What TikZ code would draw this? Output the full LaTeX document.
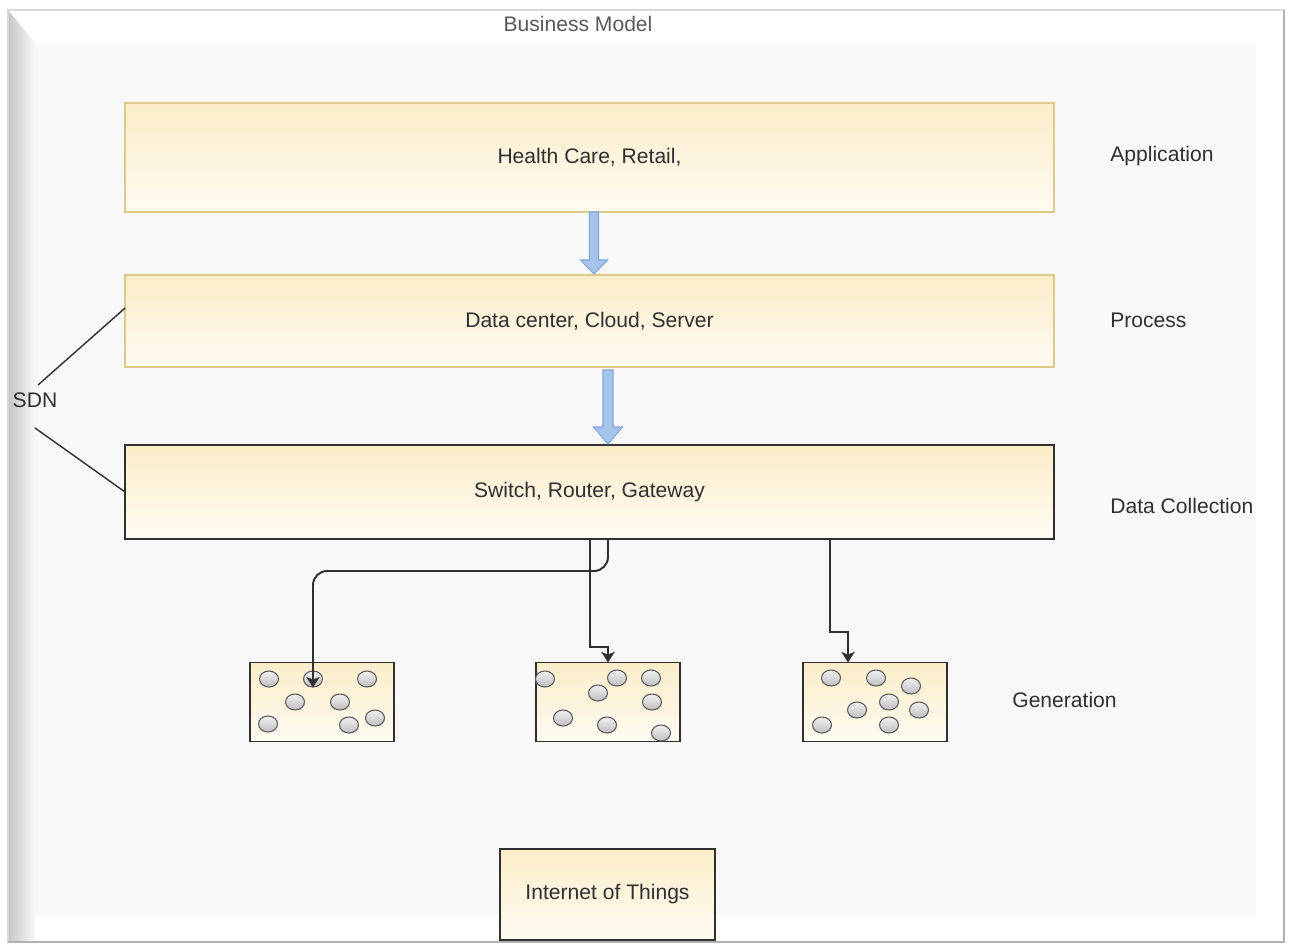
\documentclass[tikz,border=0pt]{standalone}
\usepackage{fontspec}
\setmainfont{Liberation Sans}
\usetikzlibrary{arrows.meta,positioning,shapes.geometric}

\definecolor{layerTop}{HTML}{FBEDC9}
\definecolor{layerBot}{HTML}{FEFBF2}
\definecolor{layerLine}{HTML}{E0C88A}
\definecolor{flowFill}{HTML}{A9C4EB}
\definecolor{flowLine}{HTML}{7EA6E0}
\definecolor{ink}{HTML}{303030}
\definecolor{pane}{HTML}{F8F8F8}

\begin{document}
\begin{tikzpicture}[x=0.02cm, y=-0.02cm,
  every node/.style={font=\fontsize{12}{14}\selectfont, text=ink},
  layer/.style={draw=layerLine, line width=0.9pt, top color=layerTop, bottom color=layerBot, minimum width=18.58cm, inner sep=0pt, outer sep=0pt},
  hwlayer/.style={layer, draw=ink},
  field/.style={draw=ink, line width=0.9pt, top color=layerTop, bottom color=layerBot, minimum width=2.88cm, minimum height=1.58cm, inner sep=0pt, outer sep=0pt},
  dot/.style={ellipse, draw=gray!70!black, line width=0.6pt, top color=gray!12, bottom color=gray!50, minimum width=0.38cm, minimum height=0.32cm, inner sep=0pt},
  tag/.style={anchor=west, inner xsep=0pt},
  link/.style={draw=ink, line width=1.1pt, -{Stealth[length=6pt, width=7.5pt, inset=1.5pt]}},
  sdnline/.style={draw=ink, line width=0.8pt},
  flow/.style={draw=flowLine, fill=flowFill, line width=0.6pt, line join=miter}]

% page frame with its shadow
\useasboundingbox (0,0) rectangle (1290,943);
\fill[white] (0,0) rectangle (1290,943);
\fill[pane] (35,43) rectangle (1256,915);
\shade[left color=gray!45, right color=pane] (8,10) -- (35,43) -- (35,942) -- (8,942) -- cycle;
\draw[gray!30, line width=0.6pt] (8,10) rectangle (1284,942);
\draw[gray!60, line width=1.2pt] (1284,10) -- (1284,942) -- (8,942);

\node[text=gray!70!black] (title) at (578,24) {Business Model};

% layers
\node[layer, minimum height=2.18cm] (app)  at (589.5,157.5) {Health Care, Retail,};
\node[layer, minimum height=1.84cm] (proc) at (589.5,321)   {Data center, Cloud, Server};
\node[hwlayer, minimum height=1.88cm] (dc) at (589.5,492)   {Switch, Router, Gateway};

\node[tag] (lapp)  at (1110,156) {Application};
\node[tag] (lproc) at (1110,320) {Process};
\node[tag] (ldc)   at (1110,506) {Data Collection};
\node[tag] (lgen)  at (1012,700) {Generation};
\node (sdn) at (35,400) {SDN};

% sensor fields
\node[field] (ga) at (322,702) {};
\node[field] (gb) at (608,702) {};
\node[field] (gc) at (875,702) {};
\node[field, minimum width=4.3cm, minimum height=1.82cm] (iot) at (607.5,894.5) {Internet of Things};

\foreach \dx/\dy [count=\k] in {-53/-23, -9/-23, 45/-23, -27/0, 18/0, 53/16, -54/22, 27/23}
  \path (ga.center) ++(\dx,\dy) node[dot] (a\k) {};
\foreach \dx/\dy [count=\k] in {-63/-23, 9/-24, 43/-24, -10/-9, 44/0, -45/16, -1/23, 53/31}
  \path (gb.center) ++(\dx,\dy) node[dot] (b\k) {};
\foreach \dx/\dy [count=\k] in {-44/-24, 1/-24, 36/-16, 14/0, -18/8, 44/8, -53/23, 14/23}
  \path (gc.center) ++(\dx,\dy) node[dot] (c\k) {};

% block arrows between layers
\draw[flow] ([xshift=0.09cm]app.south) ++(-4.5,0) -- ++(0,48) -- ++(-9,0) -- ++(13.5,14)
  -- ++(13.5,-14) -- ++(-9,0) -- ++(0,-48) -- cycle;
\draw[flow] ([xshift=0.37cm, yshift=-0.06cm]proc.south) ++(-5,0) -- ++(0,57) -- ++(-9.5,0) -- ++(14.5,17)
  -- ++(14.5,-17) -- ++(-9.5,0) -- ++(0,-57) -- cycle;

% links down to the fields
\draw[link, rounded corners=8pt] (dc.south -| gb.north) -- (608,571) -- (313,571) -- (a2.south);
\draw[link] ([xshift=0.01cm]dc.south) -- (590,647) -- (608,647) -- (gb.north);
\draw[link] ([xshift=-0.9cm]dc.south -| gc.north) -- (830,632) -- (848,632) -- ([xshift=-0.54cm]gc.north);

% SDN
\draw[sdnline] ([yshift=0.26cm]proc.west) -- ([shift={(3,-15)}]sdn.center);
\draw[sdnline] (dc.west) -- ([shift={(0,28)}]sdn.center);
\end{tikzpicture}
\end{document}
